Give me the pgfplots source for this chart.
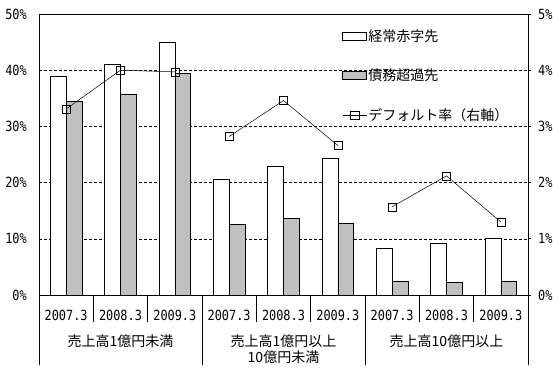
\documentclass[border=0pt]{standalone}
\usepackage{fontspec}
\setmainfont{Noto Sans CJK JP}
\newfontfamily\numfont[FakeStretch=0.85]{DejaVu Sans Mono}
\usepackage{pgfplots}
\pgfplotsset{compat=1.18}
\definecolor{bargray}{RGB}{192,192,192}
\newcommand{\jfont}{\fontsize{14bp}{16bp}\selectfont}
\newcommand{\nfont}{\numfont\fontsize{14bp}{16bp}\selectfont}
\pgfplotsset{
  barleg/.style={legend image code/.code={\draw[##1] (0bp,-4bp) rectangle (24bp,4bp);}},
  lineleg/.style={legend image code/.code={%
    \path[draw=none, fill=none] (0bp,-4bp) rectangle (24bp,4bp);
    \draw[black, line width=0.5bp, fill=none] (0bp,0bp) -- (24bp,0bp);
    \draw[black, line width=0.5bp, fill=none] (7.5bp,-4bp) rectangle (16.5bp,4bp);}},
}
\begin{document}
\begin{tikzpicture}
\begin{axis}[
  scale only axis, width=489bp, height=281bp,
  xmin=-0.5, xmax=8.5, ymin=0, ymax=50,
  ybar=0pt, bar width=15.7bp,
  clip=false,
  xtick={0,...,8},
  xticklabels={2007.3,2008.3,2009.3,2007.3,2008.3,2009.3,2007.3,2008.3,2009.3},
  ytick={0,10,...,50},
  yticklabels={0\%,10\%,20\%,30\%,40\%,50\%},
  major tick length=0pt,
  tick style={draw=none},
  ymajorgrids,
  major grid style={black, line width=0.6bp, dash pattern=on 3bp off 2bp},
  axis line style={black, line width=0.8bp},
  ticklabel style={font=\nfont},
  xticklabel style={anchor=center, inner sep=0pt, yshift=-20bp},
  yticklabel style={anchor=east, inner sep=0pt, xshift=-12bp},
  legend style={draw=none, fill=none, at={(0.62,0.95)}, anchor=north west,
    font=\jfont, row sep=23bp, inner sep=0pt, nodes={inner sep=1.5bp}},
  legend cell align=left,
]
\addplot[draw=black, fill=white, line width=0.6bp, barleg]
  coordinates {(0,39.0)(1,41.0)(2,45.0)(3,20.6)(4,22.9)(5,24.3)(6,8.3)(7,9.2)(8,10.1)};
\addplot[draw=black, fill=bargray, line width=0.6bp, barleg]
  coordinates {(0,34.5)(1,35.8)(2,39.4)(3,12.6)(4,13.6)(5,12.7)(6,2.5)(7,2.3)(8,2.5)};
\addlegendentry{経常赤字先}
\addlegendentry{債務超過先}
\addlegendimage{black, line width=0.5bp, mark=square, mark size=4bp, lineleg}
\addlegendentry{デフォルト率（右軸）}
% separators
\pgfplotsinvokeforeach{0.5,1.5,3.5,4.5,6.5,7.5}{
  \draw[black, line width=0.8bp] (axis cs:#1,0) -- ([yshift=-27bp]axis cs:#1,0);
}
\pgfplotsinvokeforeach{-0.5,2.5,5.5,8.5}{
  \draw[black, line width=0.8bp] (axis cs:#1,0) -- ([yshift=-70bp]axis cs:#1,0);
}
\node[anchor=north, inner sep=0pt, font=\jfont, yshift=-40bp] at (axis cs:1,0) {売上高1億円未満};
\node[anchor=north, inner sep=0pt, font=\jfont, align=center, yshift=-40bp] at (axis cs:4,0) {売上高1億円以上\\10億円未満};
\node[anchor=north, inner sep=0pt, font=\jfont, yshift=-40bp] at (axis cs:7,0) {売上高10億円以上};
\end{axis}
\begin{axis}[
  scale only axis, width=489bp, height=281bp,
  xmin=-0.5, xmax=8.5, ymin=0, ymax=5,
  axis x line=none, axis y line*=right,
  ytick={0,...,5},
  yticklabels={0\%,1\%,2\%,3\%,4\%,5\%},
  tick align=outside, major tick length=3bp,
  tick style={black, line width=0.8bp},
  axis line style={black, line width=0.8bp},
  ticklabel style={font=\nfont},
  yticklabel style={anchor=west, inner sep=0pt, xshift=7bp},
]
\addplot[black, line width=0.5bp, mark=square, mark size=4bp] coordinates {(0,3.31)(1,4.00)(2,3.97)};
\addplot[black, line width=0.5bp, mark=square, mark size=4bp] coordinates {(3,2.82)(4,3.46)(5,2.66)};
\addplot[black, line width=0.5bp, mark=square, mark size=4bp] coordinates {(6,1.57)(7,2.12)(8,1.30)};
\end{axis}
\pgfresetboundingbox
\path (-39bp,-82bp) rectangle (520bp,295bp);
\end{tikzpicture}
\end{document}
